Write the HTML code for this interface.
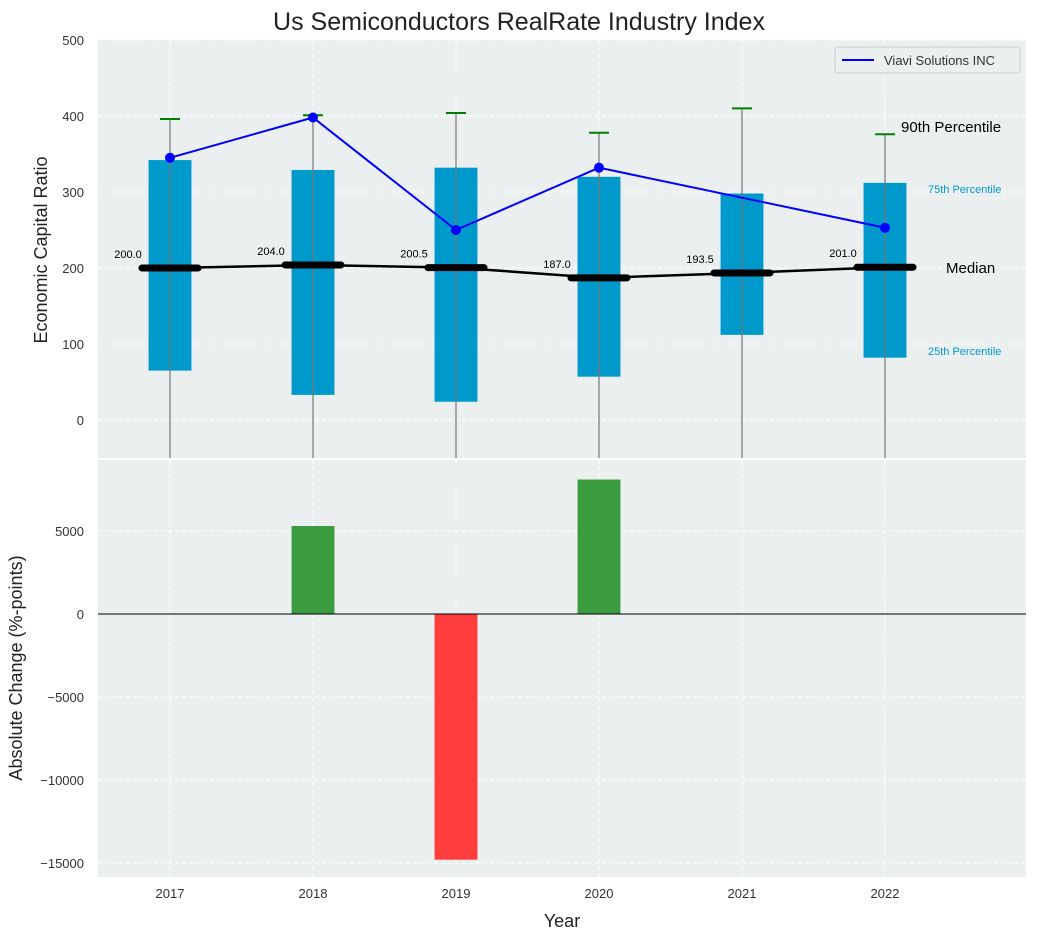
<!DOCTYPE html>
<html><head><meta charset="utf-8"><style>
body{margin:0;background:#fff;font-family:"Liberation Sans",sans-serif;}
svg text{font-family:"Liberation Sans",sans-serif;}
</style></head><body>
<svg id="c" width="1038" height="940" xmlns="http://www.w3.org/2000/svg"></svg>
<script>
const years=[2017,2018,2019,2020,2021,2022];
const q1=[65,33,24,57,112,82];
const q3=[342,329,332,320,298,312];
const p90=[396,401,404,378,410,376];
const medians=[200,204,200.5,187,193.5,201];
const viavi=[345,398,250,332,null,253];
const changes=[0,5300,-14800,8100,0,0];
const topTicks=[0,100,200,300,400,500];
const botTicks=[-15000,-10000,-5000,0,5000];

const NS="http://www.w3.org/2000/svg";
const svg=document.getElementById('c');
function el(t,a,p){const e=document.createElementNS(NS,t);for(const k in a)e.setAttribute(k,a[k]);(p||svg).appendChild(e);return e;}
const L=98,R=1026;
const x=v=>170+(v-2017)*143;
const T0=40,T1=458,yT=v=>T0+(500-v)/(550)*(T1-T0);
const B0=460,B1=877,yB=v=>B0+(9277-v)/(9277+15843)*(B1-B0);

let g=el('g',{});  
el('rect',{x:L,y:T0,width:R-L,height:T1-T0,fill:'#ebeff0'},g);
let g2=el('g',{});  
el('rect',{x:L,y:B0,width:R-L,height:B1-B0,fill:'#ebeff0'},g2);
years.forEach(y=>{el('line',{x1:x(y),x2:x(y),y1:T0,y2:T1,stroke:'#fff','stroke-dasharray':'4,3'},g);el('line',{x1:x(y),x2:x(y),y1:B0,y2:B1,stroke:'#fff','stroke-dasharray':'4,3'},g2);
 const t=el('text',{x:x(y),y:898,'font-size':13,fill:'#333','text-anchor':'middle'});t.textContent=y;
 });
topTicks.forEach(v=>{el('line',{x1:L,x2:R,y1:yT(v),y2:yT(v),stroke:'#fff','stroke-dasharray':'4,3'},g);
 const t=el('text',{x:L-14,y:yT(v)+5,'font-size':13,fill:'#333','text-anchor':'end'});t.textContent=v;
 });
botTicks.forEach(v=>{el('line',{x1:L,x2:R,y1:yB(v),y2:yB(v),stroke:'#fff','stroke-dasharray':'4,3'},g2);
 const t=el('text',{x:L-14,y:yB(v)+5,'font-size':13,fill:'#333','text-anchor':'end'});t.textContent=v==0?'0':String(v).replace('-','\u2212');
 });
const bw=0.3*143;
years.forEach((y,i)=>{
 const r=el('rect',{x:x(y)-bw/2,y:yT(q3[i]),width:bw,height:yT(q1[i])-yT(q3[i]),fill:'#0099cc'},g);
 
 el('line',{x1:x(y),x2:x(y),y1:yT(p90[i]),y2:T1,stroke:'#777','stroke-width':1.2},g);
 el('line',{x1:x(y)-10,x2:x(y)+10,y1:yT(p90[i]),y2:yT(p90[i]),stroke:'green','stroke-width':2},g);
});
el('polyline',{points:years.map((y,i)=>x(y)+','+yT(medians[i])).join(' '),fill:'none',stroke:'#000','stroke-width':2.5},g);
years.forEach((y,i)=>{
 const m=el('line',{x1:x(y)-28,x2:x(y)+28,y1:yT(medians[i]),y2:yT(medians[i]),stroke:'#000','stroke-width':7,'stroke-linecap':'round'},g);
 
 const t=el('text',{x:x(y)-42,y:yT(medians[i])-10,'font-size':11,fill:'#000','text-anchor':'middle'},g);t.textContent=medians[i].toFixed(1);
});
const vp=years.map((y,i)=>viavi[i]==null?null:[x(y),yT(viavi[i])]).filter(p=>p);
el('polyline',{points:vp.map(p=>p.join(',')).join(' '),fill:'none',stroke:'#0000ff','stroke-width':2},g);
vp.forEach(p=>{const c=el('circle',{cx:p[0],cy:p[1],r:5,fill:'#0000ff'},g);});
[['90th Percentile',901,132,15,'#000'],['75th Percentile',928,193,11,'#0099cc'],['Median',946,273,15,'#000'],['25th Percentile',928,355,11,'#0099cc']].forEach(a=>{
 const t=el('text',{x:a[1],y:a[2],'font-size':a[3],fill:a[4]},g);t.textContent=a[0];});
const lg=el('g',{});
el('rect',{x:835,y:47,width:185,height:26,fill:'#ebeff0',stroke:'#ccc',rx:3},lg);
el('line',{x1:842,x2:874,y1:60,y2:60,stroke:'#0000ff','stroke-width':2},lg);
const lt=el('text',{x:884,y:65,'font-size':13,fill:'#333'},lg);lt.textContent='Viavi Solutions INC';
years.forEach((y,i)=>{if(!changes[i])return;
 const v=changes[i];const r=el('rect',{x:x(y)-bw/2,y:Math.min(yB(v),yB(0)),width:bw,height:Math.abs(yB(v)-yB(0)),fill:v>0?'#3a9c3e':'#ff3c3c'},g2);
 });
el('line',{x1:L,x2:R,y1:yB(0),y2:yB(0),stroke:'#000','stroke-width':1},g2);
let t=el('text',{x:519,y:30,'font-size':25,fill:'#222','text-anchor':'middle'});t.textContent='Us Semiconductors RealRate Industry Index';
t=el('text',{x:47,y:250,'font-size':18,fill:'#222','text-anchor':'middle',transform:'rotate(-90 47 250)'});t.textContent='Economic Capital Ratio';
t=el('text',{x:22,y:668,'font-size':18,fill:'#222','text-anchor':'middle',transform:'rotate(-90 22 668)'});t.textContent='Absolute Change (%-points)';
t=el('text',{x:562,y:927,'font-size':18,fill:'#222','text-anchor':'middle'});t.textContent='Year';
</script>
</body></html>
